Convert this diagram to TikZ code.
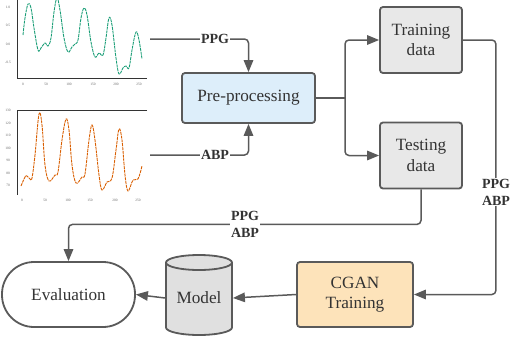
\documentclass[tikz,border=0pt]{standalone}
\usepackage{fontspec}
\setmainfont{Liberation Serif}
\usetikzlibrary{arrows.meta,positioning,calc}
\definecolor{edge}{HTML}{5A5A5A}
\definecolor{txt}{HTML}{333333}
\definecolor{prefill}{HTML}{DDEEFA}
\definecolor{datfill}{HTML}{E8E8E8}
\definecolor{ganfill}{HTML}{FDE3BA}
\definecolor{mdlfill}{HTML}{E0E0E0}
\definecolor{ppgcol}{HTML}{1B9E77}
\definecolor{abpcol}{HTML}{D95F02}
\tikzset{
  blk/.style={draw=edge, line width=1.8pt, rounded corners=3pt, minimum width=82pt, minimum height=66pt, align=center, font=\fontsize{17.2}{20.5}\selectfont, text=txt},
  con/.style={draw=edge, line width=1.5pt, rounded corners=4pt, -{Triangle[length=12pt,width=9.5pt]}},
  lbl/.style={fill=white, inner sep=1pt, align=center, font=\fontsize{14}{17}\selectfont\bfseries, text=txt},
  ax/.style={draw=black!80, line width=0.8pt},
  tk/.style={font=\fontsize{3.5}{4}\selectfont, text=black!60, inner sep=0pt},
  wave/.style={line width=0.9pt, dash pattern=on 3pt off 0.8pt}
}
\begin{document}
\begin{tikzpicture}[x=1pt, y=-1pt]
\useasboundingbox (0,0) rectangle (512,338);
\begin{scope}
\clip (0,0) rectangle (512,338);
\draw[ax] (17,0) -- (17,78) -- (147,78);
\draw[wave, ppgcol] plot[smooth, tension=0.6] coordinates {(23,35) (25,18) (28,4) (31,8) (34,28) (38,50) (41,48) (45,43) (48,46) (51,38) (54,12) (57,-2) (60,10) (64,38) (68,52) (72,47) (75,44) (78,40) (81,18) (84,8) (87,15) (91,42) (95,57) (99,53) (103,55) (106,38) (109,18) (112,25) (116,58) (119,74) (123,68) (126,66) (129,68) (132,50) (136,32) (139,40) (142,59)};
\end{scope}
\foreach \v/\y in {1.0/7, 0.5/25, 0.0/44, -0.5/62} \node[tk] at (8,\y) {\v};
\foreach \v/\x in {0/23, 50/46, 100/69, 150/93, 200/116, 250/139} \node[tk] at (\x,84) {\v};
\draw[ax] (147,110) -- (17,110) -- (17,195);
\draw[wave, abpcol] plot[smooth, tension=0.6] coordinates {(21,186) (25,177) (27,176) (30,179) (32,178) (35,155) (39,114) (42,125) (45,165) (49,181) (55,175) (58,172) (62,140) (66,119) (69,130) (72,165) (76,183) (82,177) (85,174) (89,140) (92,125) (95,140) (99,175) (102,190) (107,182) (112,178) (116,150) (119,129) (122,140) (125,175) (128,191) (133,180) (138,179) (142,166)};
\foreach \v/\y in {130/110, 120/123, 110/135, 100/148, 90/160, 80/173, 70/185} \node[tk] at (8,\y) {\v};
\foreach \v/\x in {0/22, 50/45, 100/68, 150/90, 200/115, 250/138} \node[tk] at (\x,200) {\v};

\node[blk, fill=prefill, minimum width=133pt, minimum height=50pt] (pre) at (248.5,98) {Pre-processing};
\node[blk, fill=datfill] (train) at (421,40) {Training\\data};
\node[blk, fill=datfill] (test) at (421,155.5) {Testing\\data};
\node[blk, fill=ganfill, minimum width=116pt, minimum height=65pt] (gan) at (355,294.5) {CGAN\\Training};
\node[blk, fill=white, rounded corners=32pt, minimum width=133pt, minimum height=65pt] (eval) at (68.5,294.5) {Evaluation};
\filldraw[fill=mdlfill, draw=edge, line width=1.8pt] (166,262.5) -- (166,327.5) arc(180:360:33pt and 7.5pt) -- (232,262.5) arc(0:180:33pt and 7.5pt) -- cycle;
\draw[edge, line width=1.8pt] (166,262.5) arc(180:360:33pt and 7.5pt);
\node[blk, draw=none, fill=none, minimum width=66pt, minimum height=80pt] (model) at (199,298) {Model};

\coordinate (ppgin) at (150,39);
\coordinate (abpin) at (150,155);
\coordinate (fork) at (345,98);
\draw[con] (ppgin) -| (pre.north);
\draw[con] (abpin) -| (pre.south);
\draw[con, -] (pre.east) -- (fork);
\draw[con] (fork) |- (train.west);
\draw[con] (fork) |- (test.west);
\draw[con] (train.east) -- ++(33,0) |- (gan.east);
\draw[con] (test.south) -- ++(0,35) -| (eval.north);
\draw[con] (gan.west) -- (model.east);
\draw[con] (model.west) -- (eval.east);

\node[lbl] (lppg) at (215,39) {PPG};
\node[lbl] (labp) at (215,155) {ABP};
\node[lbl] (ltrain) at (496,192) {PPG\\ABP};
\node[lbl] (ltest) at (245,224) {PPG\\ABP};
\end{tikzpicture}
\end{document}
